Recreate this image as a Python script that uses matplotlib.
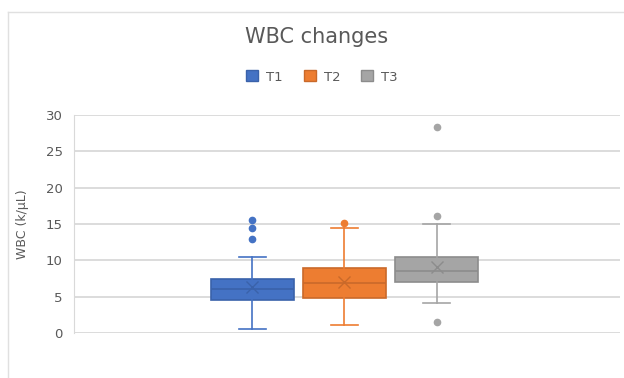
import matplotlib.pyplot as plt
from matplotlib.lines import Line2D
from matplotlib.patches import Patch

# ---------- données (k/µL) ----------
groupes = ["T1", "T2", "T3"]
q1 = [4.5, 4.8, 7.0]
medianes = [6.0, 6.85, 8.6]
q3 = [7.5, 8.9, 10.5]
moustache_basse = [0.6, 1.1, 4.1]
moustache_haute = [10.4, 14.5, 15.0]
moyennes = [6.3, 7.0, 9.1]
aberrants = [[12.9, 14.4, 15.6], [15.2], [1.5, 16.1, 28.4]]

couleurs = ["#4472C4", "#ED7D31", "#A5A5A5"]
contours = ["#3A62AA", "#C9692A", "#8C8C8C"]
texte = "#595959"
grille = "#D9D9D9"

# ---------- figure ----------
fig = plt.figure(figsize=(6.24, 3.78), dpi=100)
ax = fig.add_axes([74 / 624, 1 - 333 / 378, (620 - 74) / 624, (333 - 115) / 378])

stats = []
for i, g in enumerate(groupes):
    stats.append({
        "label": g, "q1": q1[i], "med": medianes[i], "q3": q3[i],
        "whislo": moustache_basse[i], "whishi": moustache_haute[i],
        "mean": moyennes[i], "fliers": aberrants[i],
    })

positions = [1, 2, 3]
for i, st in enumerate(stats):
    c, e = couleurs[i], contours[i]
    ax.bxp([st], positions=[positions[i]], widths=0.9, patch_artist=True,
           showmeans=True, meanline=False,
           boxprops=dict(facecolor=c, edgecolor=e, linewidth=1.2),
           medianprops=dict(color=e, linewidth=1.2),
           whiskerprops=dict(color=c, linewidth=1.2),
           capprops=dict(color=c, linewidth=1.2),
           capwidths=0.29,
           meanprops=dict(marker="x", markeredgecolor=e, markersize=9,
                          markeredgewidth=1.0),
           flierprops=dict(marker="o", markerfacecolor=c, markeredgecolor=c,
                           markersize=4.5))

ax.set_xlim(-0.935, 4.99)
ax.set_ylim(0, 30)
ax.set_yticks(range(0, 31, 5))
ax.set_xticks([])
ax.yaxis.grid(True, color=grille, linewidth=1.3)
ax.set_axisbelow(True)
for s in ["top", "right", "bottom"]:
    ax.spines[s].set_visible(False)
ax.spines["left"].set_color(grille)
ax.tick_params(axis="y", length=0, labelsize=9.5, labelcolor=texte, pad=8)
ax.set_ylabel("WBC (k/µL)", fontsize=9, color=texte, labelpad=12)

fig.text(317 / 624, 1 - 37 / 378, "WBC changes", ha="center", va="center",
         fontsize=15, color=texte)

poignees = [Patch(facecolor=couleurs[i], edgecolor=contours[i]) for i in range(3)]
fig.legend(poignees, groupes, loc="center", bbox_to_anchor=(322 / 624, 1 - 77 / 378),
           ncol=3, frameon=False, fontsize=9.5, labelcolor=texte,
           handlelength=0.9, handleheight=0.9, handletextpad=0.6, columnspacing=1.6)

# cadre du graphique
fig.add_artist(Line2D([8 / 624, 8 / 624], [0, 1 - 12 / 378], color="#E0E0E0",
                      linewidth=1, transform=fig.transFigure))
fig.add_artist(Line2D([8 / 624, 1], [1 - 12 / 378, 1 - 12 / 378], color="#E0E0E0",
                      linewidth=1, transform=fig.transFigure))

fig.savefig("out.png", dpi=100)
